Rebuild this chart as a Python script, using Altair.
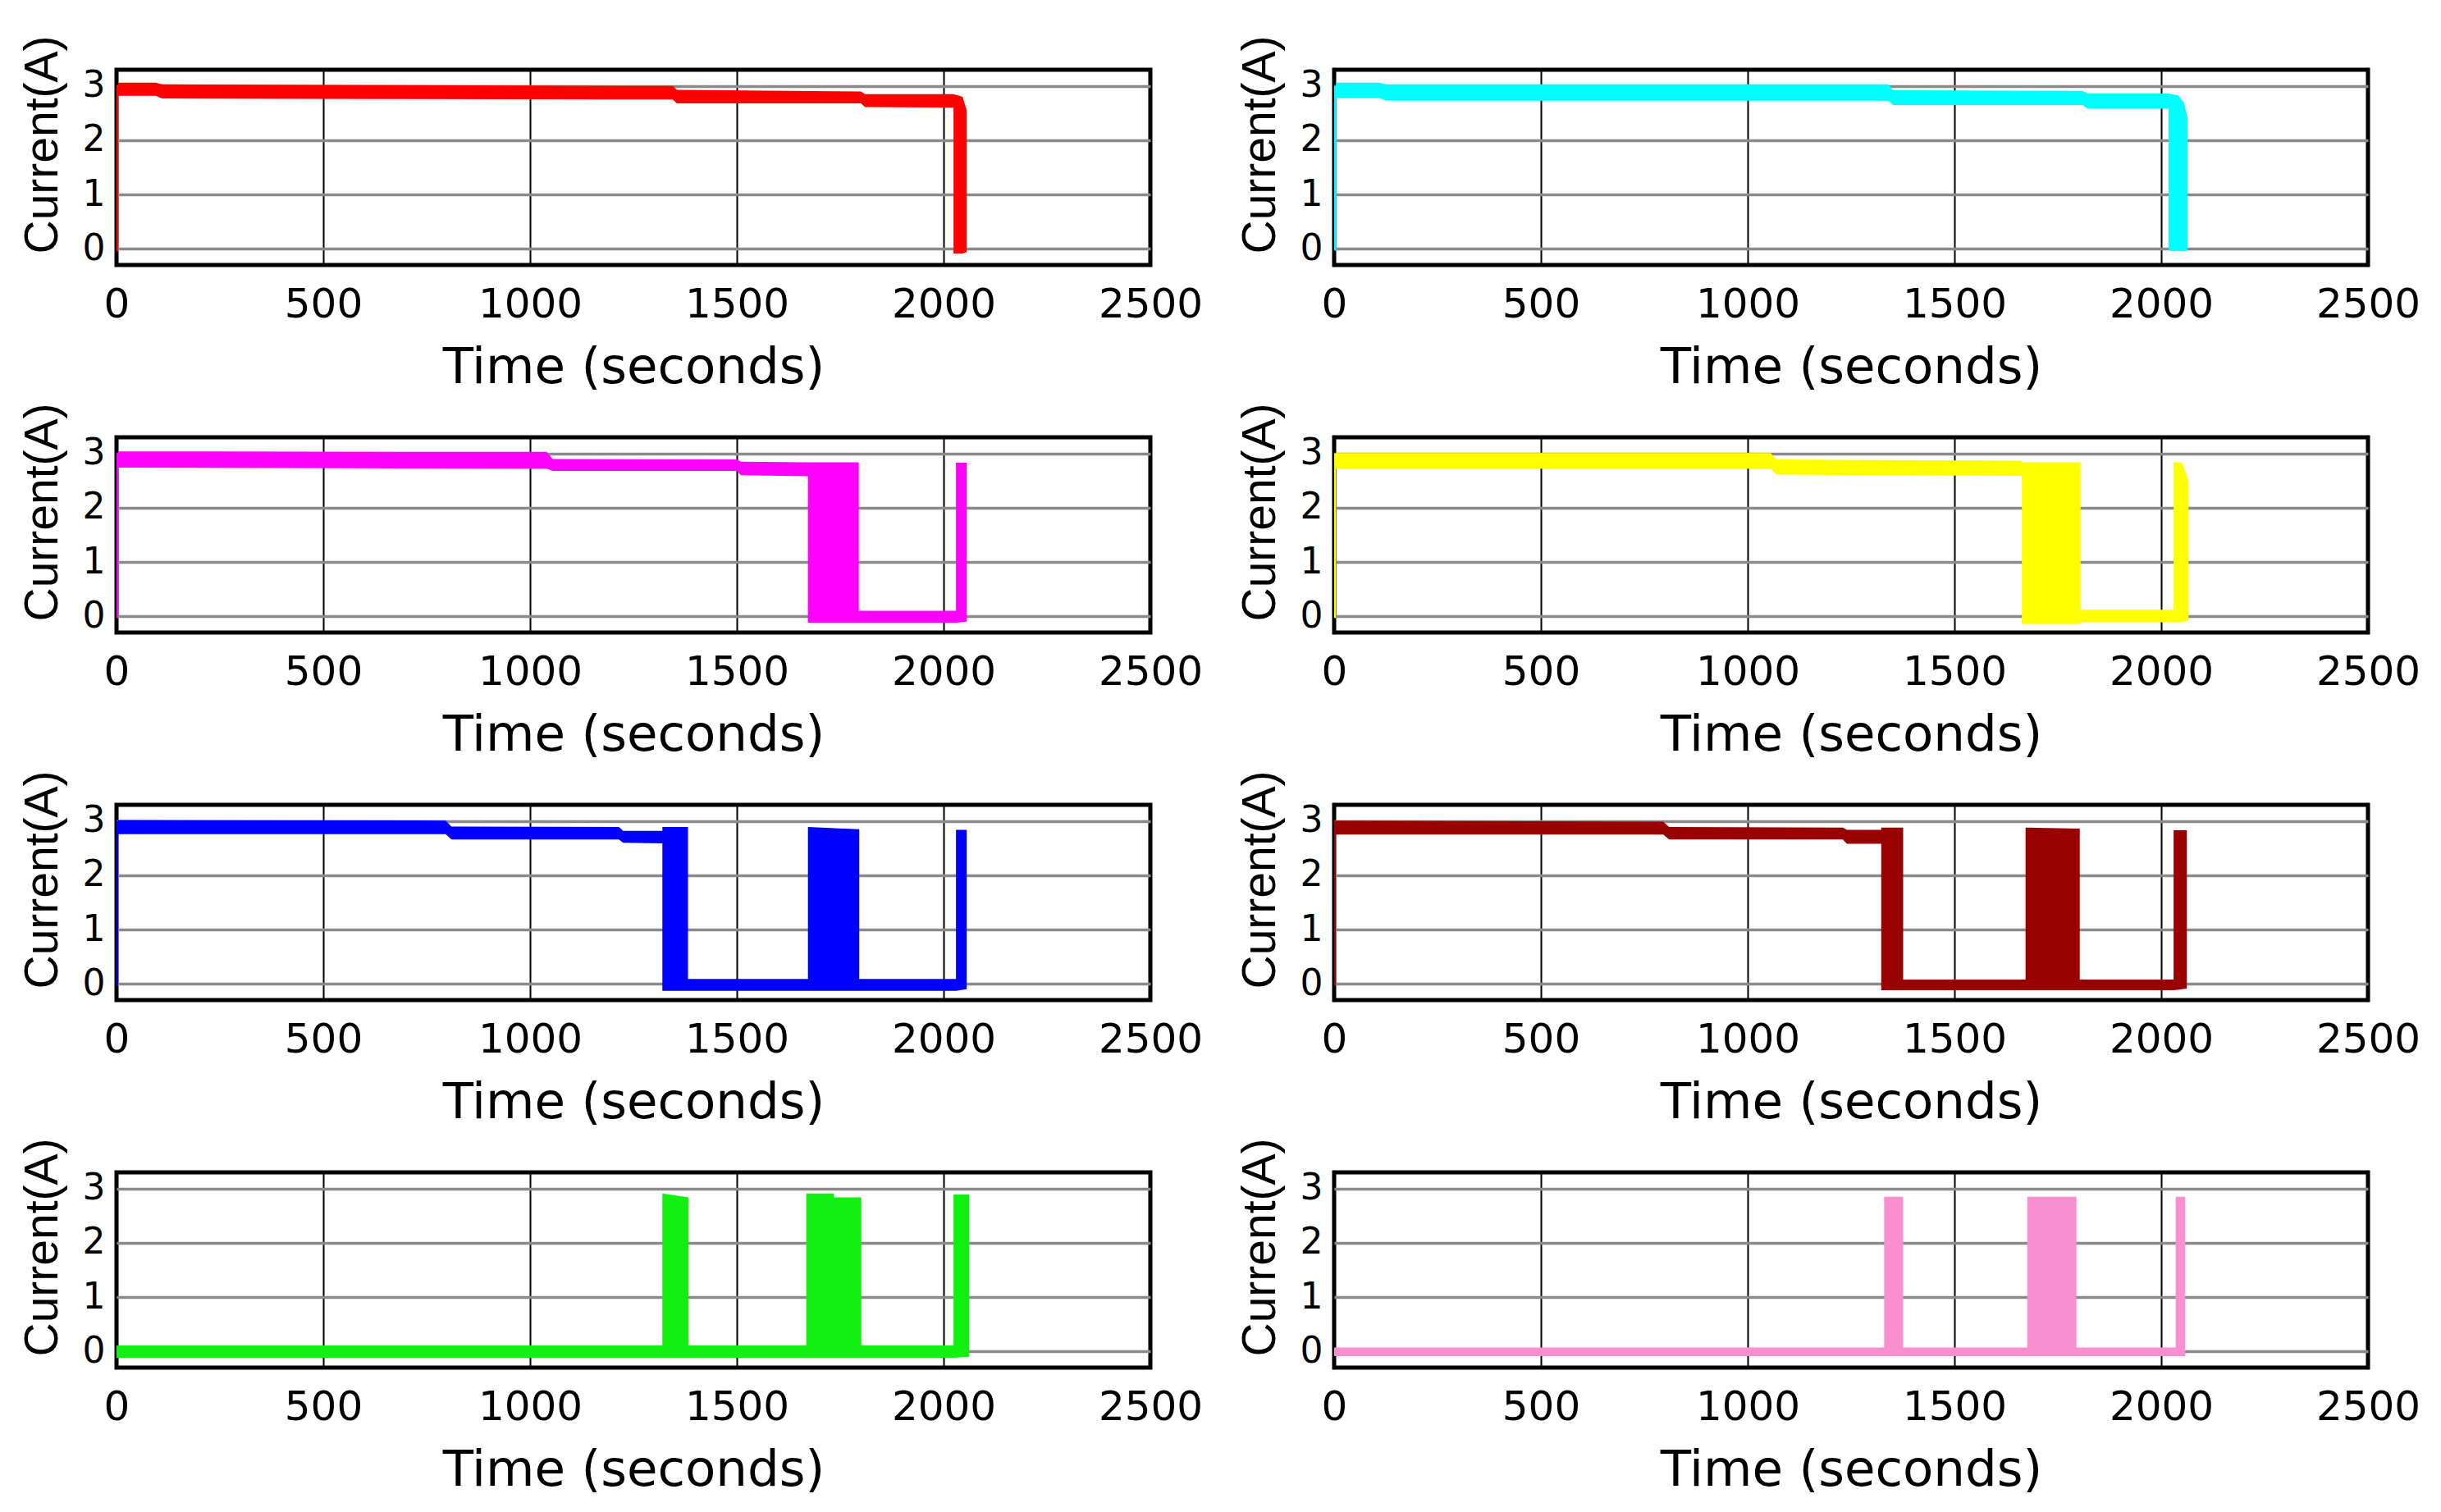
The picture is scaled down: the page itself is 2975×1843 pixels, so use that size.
import altair as alt
import pandas as pd

# axis ticks
x_ticks = [0, 500, 1000, 1500, 2000, 2500]
y_ticks = [0, 1, 2, 3]

# each trace is a thick noisy band: time, lower edge, upper edge (A)
red_t = [0, 4, 4, 95, 110, 1345, 1355, 1800, 1810, 2024, 2024, 2046, 2056]
red_lo = [-0.05, -0.05, 2.82, 2.82, 2.77, 2.75, 2.68, 2.68, 2.61, 2.60, -0.09, -0.09, -0.06]
red_hi = [3.00, 3.00, 3.06, 3.06, 3.03, 3.00, 2.93, 2.90, 2.85, 2.85, 2.85, 2.80, 2.55]

cyan_t = [0, 5, 5, 110, 125, 1340, 1352, 1810, 1822, 2018, 2018, 2040, 2055, 2064]
cyan_lo = [-0.03, -0.03, 2.78, 2.78, 2.73, 2.73, 2.65, 2.65, 2.58, 2.58, -0.04, -0.04, -0.04, -0.04]
cyan_hi = [3.00, 3.00, 3.06, 3.06, 3.03, 3.03, 2.92, 2.91, 2.86, 2.86, 2.86, 2.83, 2.70, 2.40]

mag_t = [0, 4, 4, 1040, 1055, 1500, 1510, 1672, 1672, 1795, 1795, 2030, 2030, 2056]
mag_lo = [-0.03, -0.03, 2.74, 2.72, 2.68, 2.68, 2.60, 2.58, -0.12, -0.12, -0.12, -0.12, -0.12, -0.10]
mag_hi = [3.00, 3.00, 3.04, 3.03, 2.90, 2.89, 2.85, 2.84, 2.84, 2.84, 0.10, 0.10, 2.83, 2.83]

yel_t = [0, 4, 4, 1055, 1070, 1663, 1663, 1805, 1805, 2030, 2030, 2050, 2066]
yel_lo = [-0.03, -0.03, 2.72, 2.72, 2.61, 2.59, -0.14, -0.14, -0.11, -0.11, -0.11, -0.11, -0.08]
yel_hi = [3.00, 3.00, 3.01, 3.01, 2.89, 2.87, 2.84, 2.84, 0.12, 0.12, 2.84, 2.84, 2.50]

blue_t = [0, 4, 4, 796, 810, 1215, 1225, 1320, 1320, 1382, 1382, 1672, 1672, 1796, 1796, 2030, 2030, 2056]
blue_lo = [-0.03, -0.03, 2.76, 2.76, 2.66, 2.66, 2.60, 2.59, -0.13, -0.13, -0.13, -0.13, -0.13, -0.13, -0.13, -0.13, -0.13, -0.10]
blue_hi = [3.00, 3.00, 3.02, 3.01, 2.90, 2.89, 2.82, 2.82, 2.89, 2.89, 0.09, 0.09, 2.89, 2.85, 0.09, 0.09, 2.84, 2.84]

dred_t = [0, 4, 4, 796, 810, 1230, 1240, 1323, 1323, 1376, 1376, 1672, 1672, 1803, 1803, 2030, 2030, 2062]
dred_lo = [-0.03, -0.03, 2.75, 2.75, 2.66, 2.66, 2.58, 2.58, -0.12, -0.12, -0.12, -0.12, -0.12, -0.12, -0.12, -0.12, -0.12, -0.09]
dred_hi = [3.00, 3.00, 3.01, 2.99, 2.89, 2.88, 2.84, 2.84, 2.88, 2.88, 0.08, 0.08, 2.88, 2.86, 0.08, 0.08, 2.83, 2.83]

green_t = [0, 1320, 1320, 1383, 1383, 1668, 1668, 1735, 1735, 1801, 1801, 2024, 2024, 2062]
green_lo = [-0.12, -0.12, -0.12, -0.12, -0.12, -0.12, -0.12, -0.12, -0.12, -0.12, -0.12, -0.12, -0.12, -0.10]
green_hi = [0.11, 0.11, 2.91, 2.84, 0.11, 0.11, 2.91, 2.91, 2.84, 2.84, 0.11, 0.11, 2.89, 2.89]

pink_t = [0, 1330, 1330, 1376, 1376, 1676, 1676, 1795, 1795, 2035, 2035, 2058]
pink_lo = [-0.09, -0.09, -0.09, -0.09, -0.09, -0.09, -0.09, -0.09, -0.09, -0.09, -0.09, -0.09]
pink_hi = [0.07, 0.07, 2.85, 2.85, 0.07, 0.07, 2.85, 2.85, 0.07, 0.07, 2.85, 2.85]


def panel(t, lo, hi, color):
    df = pd.DataFrame({"t": t, "lo": lo, "hi": hi})
    return alt.Chart(df).mark_area(color=color, opacity=1, interpolate="linear").encode(
        x=alt.X("t:Q", title="Time (seconds)",
                scale=alt.Scale(domain=[0, 2500], nice=False, zero=False),
                axis=alt.Axis(values=x_ticks, format="d")),
        y=alt.Y("lo:Q", title="Current(A)",
                scale=alt.Scale(domain=[-0.3, 3.3], nice=False, zero=False),
                axis=alt.Axis(values=y_ticks, format="d")),
        y2="hi:Q",
    ).properties(width=1260, height=238)


panels = [
    panel(red_t, red_lo, red_hi, "#ff0000"),
    panel(cyan_t, cyan_lo, cyan_hi, "#00ffff"),
    panel(mag_t, mag_lo, mag_hi, "#ff00ff"),
    panel(yel_t, yel_lo, yel_hi, "#ffff00"),
    panel(blue_t, blue_lo, blue_hi, "#0000ff"),
    panel(dred_t, dred_lo, dred_hi, "#990000"),
    panel(green_t, green_lo, green_hi, "#11f011"),
    panel(pink_t, pink_lo, pink_hi, "#f98fd0"),
]

chart = alt.concat(
    *panels, columns=2, bounds="flush",
    spacing=alt.RowColnumber(row=210, column=224),
).properties(
    padding={"top": 32, "left": 12, "right": 0, "bottom": 5},
    background="white",
).configure_view(
    stroke="black", strokeWidth=5
).configure_axisX(
    grid=True, gridColor="#000000", gridWidth=2,
    ticks=False, tickSize=0, domain=False,
    labelFont="DejaVu Sans", labelFontSize=50, labelColor="black",
    labelPadding=23, labelFlush=False,
    titleFont="DejaVu Sans", titleFontSize=61, titleFontWeight="normal",
    titleColor="black", titlePadding=22,
).configure_axisY(
    grid=True, gridColor="#8a8a8a", gridWidth=3.5,
    ticks=False, tickSize=0, domain=False,
    labelFont="DejaVu Sans", labelFontSize=44, labelColor="black",
    labelPadding=14,
    titleFont="Liberation Sans", titleFontSize=57, titleFontWeight="normal",
    titleColor="black", titleAngle=270, titleAlign="center", titleBaseline="middle",
    titleX=-90, titleY=91,
)

chart.save("out.html", embed_options={"renderer": "svg", "actions": False})
